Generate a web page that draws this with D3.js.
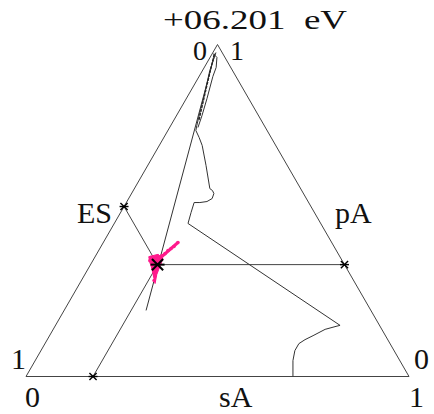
<!DOCTYPE html>
<html>
<head>
<meta charset="utf-8">
<script src="https://cdn.jsdelivr.net/npm/d3@7"></script>
<style>
  body { margin: 0; background: #fff; }
  text { font-family: "Liberation Serif", "DejaVu Serif", serif; font-size: 30px; fill: #111; }
</style>
</head>
<body>
<div id="chart"></div>
<script>
// ternary data, each point given as [sA, pA]; ES = 1 - sA - pA
var energyLabel = "+06.201  eV";
var axisNames = ["ES", "pA", "sA"];
var cornerTicks = ["0", "1"];

// the marked composition
var pointES = 0.488, pointPA = 0.337, pointSA = 0.175;

// straight trajectory line from the pA corner downwards
var pathMain = [[0.007, 0.973], [0.214, 0.199]];

// wandering trajectory
var pathWander = [
  [0.008, 0.976], [0.019, 0.922], [0.042, 0.846], [0.059, 0.786], [0.068, 0.756],
  [0.073, 0.741], [0.092, 0.720], [0.112, 0.696], [0.152, 0.636], [0.197, 0.566],
  [0.207, 0.560], [0.215, 0.551], [0.218, 0.536], [0.209, 0.527], [0.192, 0.524],
  [0.177, 0.524], [0.184, 0.494], [0.1925, 0.461], [0.743, 0.154], [0.734, 0.151],
  [0.710, 0.142], [0.688, 0.123], [0.673, 0.111], [0.663, 0.099], [0.663, 0.078],
  [0.673, 0.048], [0.697, 0.0]
];

// second strand near the top corner
var pathLoop = [
  [0.002, 0.973], [0.018, 0.961], [0.031, 0.931], [0.036, 0.904], [0.054, 0.837],
  [0.0665, 0.786], [0.074, 0.750]
];
var pathDashed = [[0.006, 0.970], [0.066, 0.771]];

// pink scatter around the marked point
var pinkPoints = [
  [0.147, 0.358], [0.156, 0.352], [0.165, 0.343], [0.177, 0.331], [0.180, 0.319],
  [0.185, 0.304], [0.190, 0.289], [0.167, 0.355], [0.178, 0.343], [0.173, 0.364],
  [0.178, 0.370], [0.181, 0.3795], [0.186, 0.3855], [0.1906, 0.3916], [0.195, 0.4036],
  [0.159, 0.340], [0.169, 0.325], [0.149, 0.349]
];
var pinkFan = [
  [0.140, 0.361], [0.161, 0.368], [0.180, 0.355], [0.184, 0.331], [0.188, 0.307],
  [0.197, 0.280], [0.166, 0.325], [0.152, 0.343]
];

var width = 434, height = 414;

var svg = d3.select("#chart")
  .append("svg")
    .attr("width", width)
    .attr("height", height);

var x = d3.scaleLinear().domain([0, 1]).range([26, 409]);
var y = d3.scaleLinear().domain([0, 1]).range([376.5, 44.5]);

// ternary -> screen
function px(d) { return x(d[0] + d[1] / 2); }
function py(d) { return y(d[1]); }

var line = d3.line().x(px).y(py);

// frame
svg.append("path")
  .attr("d", line([[0, 0], [1, 0], [0, 1], [0, 0]]))
  .attr("fill", "none")
  .attr("stroke", "#444")
  .attr("stroke-width", 1);

// construction lines of the marked point
var p = [pointSA, pointPA];
var onES = [0, 1 - pointES];       // left edge
var onPA = [1 - pointPA, pointPA]; // right edge
var onSA = [pointSA, 0];           // bottom edge

svg.append("path")
  .attr("d", line([onES, p, onPA]))
  .attr("fill", "none")
  .attr("stroke", "#444");
svg.append("path")
  .attr("d", line([onSA, p]))
  .attr("fill", "none")
  .attr("stroke", "#444");

// trajectories
[pathMain, pathWander, pathLoop].forEach(function(d) {
  svg.append("path")
    .attr("d", line(d))
    .attr("fill", "none")
    .attr("stroke", "#333")
    .attr("stroke-width", 1);
});
svg.append("path")
  .attr("d", line(pathDashed))
  .attr("fill", "none")
  .attr("stroke", "#222")
  .attr("stroke-width", 1.2)
  .attr("stroke-dasharray", "3,1");

// pink cloud
svg.append("path")
  .attr("d", line(pinkFan) + "Z")
  .attr("fill", "#ff1a8c")
  .attr("stroke", "#ff1a8c");
svg.append("path")
  .attr("d", line([[0.165, 0.343], [0.195, 0.4036]]))
  .attr("stroke", "#ff1a8c")
  .attr("stroke-width", 3);
svg.selectAll("circle.pink")
  .data(pinkPoints)
  .enter()
  .append("circle")
    .attr("class", "pink")
    .attr("cx", px)
    .attr("cy", py)
    .attr("r", 1.8)
    .attr("fill", "#ff1a8c");

// star markers
function star(d, r, w) {
  var g = svg.append("g")
    .attr("transform", "translate(" + px(d) + "," + py(d) + ")")
    .attr("stroke", "#000")
    .attr("stroke-width", w);
  g.append("line").attr("x1", -r).attr("x2", r).attr("y1", 0).attr("y2", 0);
  g.append("line").attr("x1", -r * 0.8).attr("x2", r * 0.8).attr("y1", -r * 0.8).attr("y2", r * 0.8);
  g.append("line").attr("x1", -r * 0.8).attr("x2", r * 0.8).attr("y1", r * 0.8).attr("y2", -r * 0.8);
}
[onES, onPA, onSA].forEach(function(d) { star(d, 4.5, 1.4); });
star(p, 7, 2);

// labels
svg.append("text")
  .attr("x", 163).attr("y", 29)
  .style("font-size", "27px")
  .style("white-space", "pre")
  .attr("textLength", 184)
  .attr("lengthAdjust", "spacingAndGlyphs")
  .text(energyLabel);

svg.append("text").attr("x", 193).attr("y", 60).style("font-size", "28px").text(cornerTicks[0]);
svg.append("text").attr("x", 230).attr("y", 60).style("font-size", "28px").text(cornerTicks[1]);
svg.append("text").attr("x", 11).attr("y", 369).text(cornerTicks[1]);
svg.append("text").attr("x", 414).attr("y", 369).text(cornerTicks[0]);
svg.append("text").attr("x", 25).attr("y", 407).text(cornerTicks[0]);
svg.append("text").attr("x", 409).attr("y", 407).text(cornerTicks[1]);

svg.append("text").attr("x", 112).attr("y", 223).attr("text-anchor", "end").text(axisNames[0]);
svg.append("text").attr("x", 335).attr("y", 223).text(axisNames[1]);
svg.append("text").attr("x", 219).attr("y", 407).text(axisNames[2]);
</script>
</body>
</html>
